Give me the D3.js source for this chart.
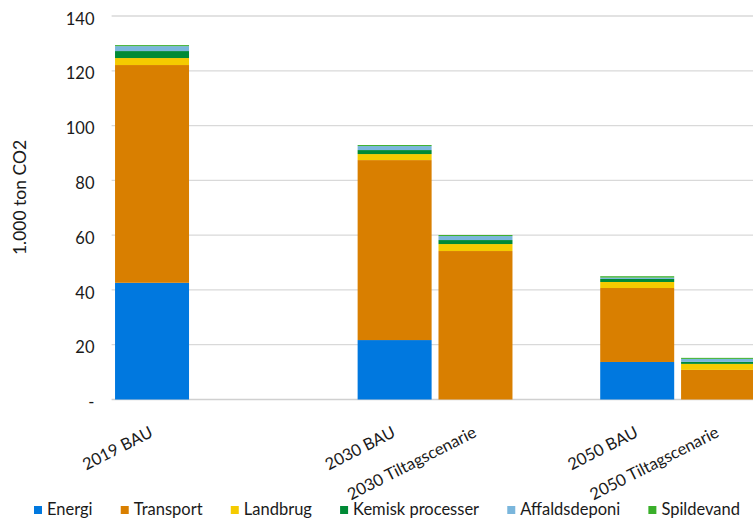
<!DOCTYPE html>
<html>
<head>
<meta charset="utf-8">
<script src="https://cdn.jsdelivr.net/npm/d3@7"></script>
<style>
  body { margin: 0; background: #fff; }
  svg { display: block; font-family: Lato, "Open Sans", sans-serif; }
</style>
</head>
<body>
<svg id="chart" width="753" height="519"></svg>
<script>
// ---- data ----
const categories = ["2019 BAU", "", " ", "2030 BAU", "2030 Tiltagscenarie", "  ", "2050 BAU", "2050 Tiltagscenarie"];
const seriesNames = ["Energi", "Transport", "Landbrug", "Kemisk processer", "Affaldsdeponi", "Spildevand"];
const energi      = [42.6, 0, 0, 21.7, 0,    0, 13.7, 0];
const transport   = [79.5, 0, 0, 65.7, 54.2, 0, 27.0, 10.8];
const landbrug    = [2.55, 0, 0, 2.2,  2.55, 0, 2.2,  2.2];
const kemisk      = [2.55, 0, 0, 1.46, 1.46, 0, 1.1,  0.73];
const affald      = [1.8,  0, 0, 1.46, 1.46, 0, 0.5,  1.1];
const spildevand  = [0.37, 0, 0, 0.37, 0.37, 0, 0.5,  0.37];
const yTicks = [0, 20, 40, 60, 80, 100, 120, 140];
const yTickLabels = ["-", "20", "40", "60", "80", "100", "120", "140"];
const colors = ["#0078DF", "#D97F00", "#F5CB00", "#008A36", "#7AB6DC", "#3AAF2A"];

const seriesValues = [energi, transport, landbrug, kemisk, affald, spildevand];
const table = categories.map((c, i) => {
  const row = { cat: i };
  seriesNames.forEach((s, k) => row[s] = seriesValues[k][i]);
  return row;
});

// ---- layout ----
const svg = d3.select("#chart");
const plot = { left: 111.6, right: 758.5, top: 16, bottom: 399.5 };

const x = d3.scaleBand()
  .domain(d3.range(categories.length))
  .range([plot.left, plot.right])
  .paddingInner(0.085)
  .paddingOuter(0.0425);

const y = d3.scaleLinear().domain([0, 140]).range([plot.bottom, plot.top]);

// gridlines
svg.append("g").selectAll("line")
  .data(yTicks)
  .join("line")
  .attr("x1", plot.left).attr("x2", 753)
  .attr("y1", d => y(d)).attr("y2", d => y(d))
  .attr("stroke", d => d === 0 ? "#d0d0d0" : "#d9d9d9")
  .attr("stroke-width", 1.3);

// y tick labels
svg.append("g").selectAll("text")
  .data(yTicks)
  .join("text")
  .attr("x", 94.5)
  .attr("y", d => y(d) + 4.5)
  .attr("text-anchor", "end")
  .attr("dominant-baseline", "middle")
  .attr("font-size", 16.5)
  .attr("fill", "#1a1a1a")
  .text((d, i) => yTickLabels[i]);

// y title
svg.append("text")
  .attr("transform", "translate(26,197.5) rotate(-90)")
  .attr("text-anchor", "middle")
  .attr("font-size", 17.5)
  .attr("fill", "#1a1a1a")
  .text("1.000 ton CO2");

// stacked bars
const stack = d3.stack().keys(seriesNames);
const stacked = stack(table);

svg.append("g").selectAll("g")
  .data(stacked)
  .join("g")
  .attr("fill", (d, i) => colors[i])
  .selectAll("rect")
  .data(d => d.filter(p => p[1] - p[0] > 0))
  .join("rect")
  .attr("x", d => x(d.data.cat))
  .attr("width", x.bandwidth())
  .attr("y", d => y(d[1]))
  .attr("height", d => y(d[0]) - y(d[1]));

// x labels
svg.append("g").selectAll("text")
  .data(categories.map((c, i) => ({ c, i })).filter(d => d.c.trim() !== ""))
  .join("text")
  .attr("transform", d => `translate(${x(d.i) + x.bandwidth() / 2 + 2},436) rotate(-27)`)
  .attr("text-anchor", "end")
  .attr("font-size", 16.5)
  .attr("fill", "#1a1a1a")
  .text(d => d.c);

// legend
const legend = svg.append("g");
const items = legend.selectAll("g")
  .data(seriesNames)
  .join("g");
items.append("rect")
  .attr("width", 8).attr("height", 8)
  .attr("y", 506)
  .attr("fill", (d, i) => colors[i]);
items.append("text")
  .attr("x", 13)
  .attr("y", 515)
  .attr("font-size", 16.5)
  .attr("fill", "#1a1a1a")
  .text(d => d);
const legStart = 34, legEnd = 740;
const widths = [];
items.each(function () { widths.push(13 + d3.select(this).select("text").node().getComputedTextLength()); });
const gap = (legEnd - legStart - d3.sum(widths)) / (widths.length - 1);
let cx = legStart;
items.each(function (d, i) {
  d3.select(this).attr("transform", `translate(${cx},0)`);
  cx += widths[i] + gap;
});
</script>
</body>
</html>
